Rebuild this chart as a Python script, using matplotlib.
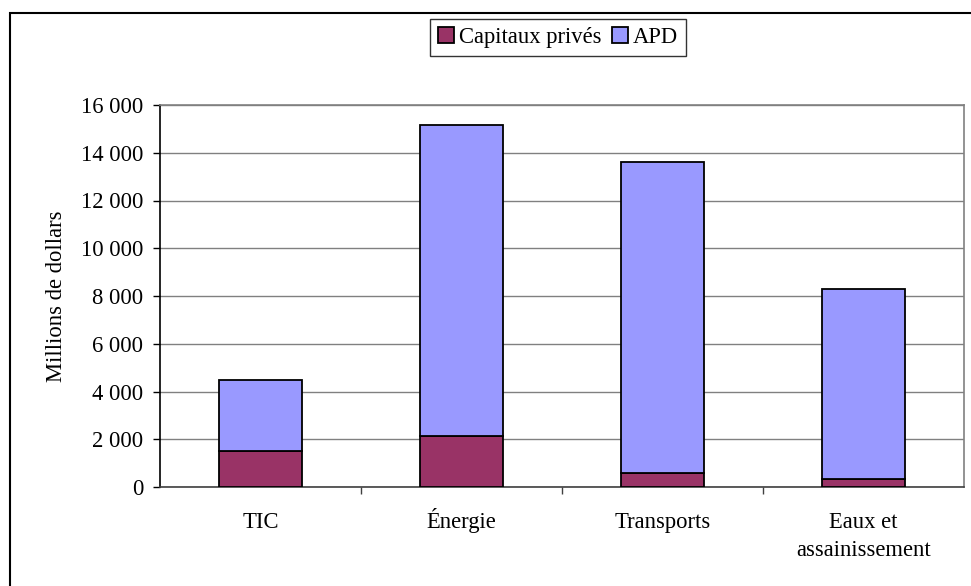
import numpy as np
import matplotlib.pyplot as plt
from matplotlib.patches import Rectangle
from matplotlib.ticker import FuncFormatter

plt.rcParams['font.family'] = ['Liberation Serif', 'DejaVu Serif']

categories = ['TIC', 'Énergie', 'Transports', 'Eaux et\nassainissement']
capitaux_prives = [1500, 2150, 600, 350]
apd = [3000, 13000, 13000, 7950]
series_names = ['Capitaux privés', 'APD']

fs = 16.3
fig = plt.figure(figsize=(9.71, 5.86), dpi=100)
ax = fig.add_axes([160 / 971, 1 - 487 / 586, 804 / 971, 382 / 586])

x = np.arange(len(categories))
b1 = ax.bar(x, capitaux_prives, width=0.41, color='#993366', edgecolor='black',
            linewidth=1.3, label=series_names[0], zorder=3)
b2 = ax.bar(x, apd, width=0.41, bottom=capitaux_prives, color='#9999FF',
            edgecolor='black', linewidth=1.3, label=series_names[1], zorder=3)

ax.set_xlim(-0.5, len(categories) - 0.5)
ax.set_ylim(0, 16000)
ax.set_yticks(np.arange(0, 16001, 2000))
ax.yaxis.set_major_formatter(FuncFormatter(lambda v, p: f'{int(v):,}'.replace(',', ' ')))
ax.yaxis.grid(True, color='#808080', linewidth=1.0, zorder=0)
ax.set_axisbelow(True)

# category labels centred (first line as tick label, baseline aligned),
# ticks on the category boundaries
first_lines = [c.split('\n')[0] for c in categories]
ax.set_xticks(x)
ax.set_xticklabels(first_lines, fontsize=fs)
for lab in ax.get_xticklabels():
    lab.set_verticalalignment('baseline')
ax.tick_params(axis='x', which='major', length=0, pad=29.5)
for i, c in enumerate(categories):
    for k, line in enumerate(c.split('\n')[1:], start=1):
        ax.annotate(line, xy=(i, 0), xycoords=('data', 'axes fraction'),
                    xytext=(0, -41 - 28 * k), textcoords='offset pixels',
                    ha='center', va='baseline', fontsize=fs)
ax.set_xticks(np.arange(0.5, len(categories) - 0.5, 1), minor=True)
ax.tick_params(axis='x', which='minor', length=5, width=1, color='#404040', direction='out')
ax.tick_params(axis='y', labelsize=fs, length=5, width=1, pad=7, direction='out')

ax.spines['left'].set_color('black')
ax.spines['bottom'].set_color('#404040')
ax.spines['top'].set_color('#808080')
ax.spines['right'].set_color('#808080')
for s in ax.spines.values():
    s.set_linewidth(1.2)

ax.set_ylabel('Millions de dollars', fontsize=fs, labelpad=10)

leg = fig.legend(handles=[b1, b2], loc='upper center', ncol=2,
                 bbox_to_anchor=(558 / 971, 1 - 19 / 586), fontsize=fs,
                 frameon=True, fancybox=False, edgecolor='black',
                 handlelength=0.7, handleheight=0.7, handletextpad=0.2,
                 columnspacing=0.5, borderpad=0.35, borderaxespad=0)
leg.get_frame().set_linewidth(1.0)

fig.patches.append(Rectangle((10 / 971, -0.05), 1.1, 1 - 13 / 586 + 0.05,
                             transform=fig.transFigure, fill=False,
                             edgecolor='black', linewidth=1.5))

fig.savefig('out.png', dpi=100)
